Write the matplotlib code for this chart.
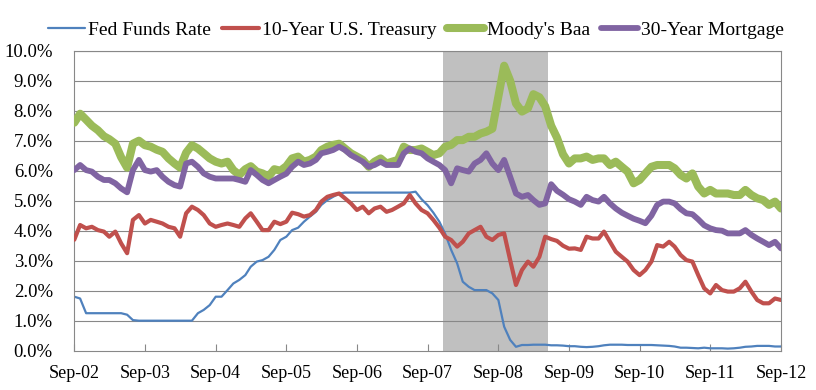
import matplotlib
matplotlib.use("Agg")
import matplotlib.pyplot as plt
import pandas as pd
import numpy as np

plt.rcParams['font.family'] = 'Liberation Serif'

# monthly observations, Sep-2002 .. Sep-2012
dates = pd.date_range("2002-09-01", "2012-09-01", freq="MS")

fed_funds = [
    1.8, 1.74, 1.25, 1.25, 1.25, 1.25, 1.25, 1.25, 1.25, 1.2,
    1.02, 1.0, 1.0, 1.0, 1.0, 1.0, 1.0, 1.0, 1.0, 1.0,
    1.0, 1.25, 1.36, 1.52, 1.8, 1.8, 2.02, 2.24, 2.36, 2.52,
    2.8, 2.97, 3.02, 3.13, 3.36, 3.69, 3.8, 4.02, 4.1, 4.3,
    4.47, 4.63, 4.86, 5.02, 5.13, 5.24, 5.27, 5.27, 5.27, 5.27,
    5.27, 5.27, 5.27, 5.27, 5.27, 5.27, 5.27, 5.27, 5.3, 5.05,
    4.85, 4.6, 4.3, 3.9, 3.36, 2.91, 2.3, 2.13, 2.02, 2.02,
    2.02, 1.91, 1.69, 0.8, 0.36, 0.13, 0.19, 0.19, 0.2, 0.2,
    0.2, 0.18, 0.18, 0.17, 0.15, 0.15, 0.13, 0.12, 0.13, 0.15,
    0.18, 0.2, 0.2, 0.2, 0.19, 0.19, 0.19, 0.19, 0.19, 0.18,
    0.17, 0.16, 0.14, 0.1, 0.1, 0.09, 0.08, 0.1, 0.08, 0.08,
    0.08, 0.07, 0.08, 0.1, 0.13, 0.14, 0.16, 0.16, 0.16, 0.14,
    0.14,
]

treasury_10y = [
    3.7, 4.19, 4.08, 4.13, 4.02, 3.97, 3.8, 3.97, 3.58, 3.25,
    4.36, 4.52, 4.24, 4.36, 4.3, 4.24, 4.13, 4.08, 3.8, 4.58,
    4.8, 4.69, 4.52, 4.24, 4.13, 4.19, 4.24, 4.19, 4.13, 4.41,
    4.58, 4.3, 4.02, 4.02, 4.3, 4.22, 4.3, 4.6, 4.55, 4.47,
    4.52, 4.69, 4.97, 5.13, 5.19, 5.24, 5.08, 4.91, 4.69, 4.8,
    4.58, 4.74, 4.8, 4.63, 4.69, 4.8, 4.91, 5.19, 4.91, 4.69,
    4.58, 4.36, 4.1, 3.8, 3.69, 3.47, 3.63, 3.91, 4.02, 4.13,
    3.8, 3.69, 3.86, 3.91, 3.02, 2.19, 2.69, 2.97, 2.8, 3.13,
    3.8, 3.72, 3.66, 3.5, 3.4, 3.41, 3.36, 3.8, 3.74, 3.74,
    3.97, 3.63, 3.3, 3.13, 2.97, 2.69, 2.52, 2.69, 2.97, 3.52,
    3.47, 3.63, 3.47, 3.19, 3.02, 2.97, 2.52, 2.08, 1.91, 2.19,
    2.02, 1.97, 1.97, 2.08, 2.3, 1.97, 1.69, 1.58, 1.58, 1.74,
    1.69,
]

moodys_baa = [
    7.6, 7.9, 7.7, 7.5, 7.35, 7.15, 7.05, 6.9, 6.45, 6.1,
    6.9, 7.0, 6.85, 6.8, 6.7, 6.63, 6.41, 6.24, 6.1, 6.6,
    6.85, 6.74, 6.58, 6.41, 6.3, 6.24, 6.3, 6.02, 5.86, 6.05,
    6.15, 5.97, 5.91, 5.8, 6.05, 6.0, 6.15, 6.41, 6.47, 6.3,
    6.36, 6.47, 6.69, 6.8, 6.86, 6.9, 6.74, 6.58, 6.47, 6.36,
    6.13, 6.3, 6.41, 6.24, 6.3, 6.36, 6.8, 6.69, 6.69, 6.74,
    6.63, 6.52, 6.58, 6.8, 6.86, 7.02, 7.02, 7.13, 7.13, 7.24,
    7.3, 7.4, 8.47, 9.5, 9.0, 8.24, 7.97, 8.08, 8.55, 8.45,
    8.15, 7.5, 7.1, 6.55, 6.24, 6.41, 6.41, 6.47, 6.36, 6.41,
    6.41, 6.19, 6.3, 6.13, 5.97, 5.58, 5.69, 5.91, 6.13, 6.19,
    6.19, 6.19, 6.08, 5.86, 5.74, 5.91, 5.47, 5.24, 5.36, 5.24,
    5.24, 5.24, 5.19, 5.19, 5.36, 5.19, 5.08, 5.02, 4.86, 4.97,
    4.74,
]

mortgage_30y = [
    6.02, 6.19, 6.02, 5.97, 5.8, 5.69, 5.69, 5.58, 5.41, 5.28,
    6.02, 6.36, 6.02, 5.97, 6.02, 5.8, 5.63, 5.52, 5.47, 6.24,
    6.3, 6.13, 5.91, 5.8, 5.74, 5.74, 5.74, 5.74, 5.69, 5.63,
    6.02, 5.86, 5.69, 5.58, 5.69, 5.8, 5.9, 6.13, 6.3, 6.19,
    6.24, 6.36, 6.58, 6.63, 6.69, 6.8, 6.69, 6.52, 6.41, 6.3,
    6.13, 6.19, 6.3, 6.19, 6.19, 6.19, 6.58, 6.74, 6.63, 6.58,
    6.41, 6.3, 6.19, 6.02, 5.58, 6.08, 6.02, 5.97, 6.24, 6.36,
    6.58, 6.24, 6.02, 6.36, 5.8, 5.24, 5.13, 5.19, 5.02, 4.86,
    4.91, 5.55, 5.33, 5.2, 5.05, 4.97, 4.86, 5.13, 5.02, 4.97,
    5.13, 4.91, 4.74, 4.6, 4.5, 4.4, 4.33, 4.25, 4.5, 4.86,
    4.97, 4.97, 4.91, 4.72, 4.58, 4.55, 4.38, 4.18, 4.08, 4.02,
    4.0, 3.91, 3.91, 3.91, 4.02, 3.86, 3.74, 3.63, 3.52, 3.63,
    3.41,
]

series_names = ["Fed Funds Rate", "10-Year U.S. Treasury", "Moody's Baa", "30-Year Mortgage"]
recession = (pd.Timestamp("2007-11-19"), pd.Timestamp("2009-05-16"))
tick_dates = pd.date_range("2002-09-01", "2012-09-01", freq="12MS")
tick_labels = [d.strftime("%b-%y") for d in tick_dates]
y_ticks = list(range(0, 11))

fig = plt.figure(figsize=(8.16, 3.9), dpi=100)
ax = fig.add_axes([74.3 / 816, 1 - 350.7 / 390, (781 - 74.3) / 816, 300 / 390])

ax.axvspan(recession[0], recession[1], color="#C0C0C0", zorder=0, lw=0)
for v in y_ticks[1:]:
    ax.axhline(v, color="#888888", lw=0.8, zorder=0.5)

colors = ["#4F81BD", "#C0504D", "#9BBB59", "#8064A2"]
widths = [1.6, 3.0, 5.8, 4.2]
data = [fed_funds, treasury_10y, moodys_baa, mortgage_30y]
handles = []
for i, (vals, name) in enumerate(zip(data, series_names)):
    h, = ax.plot(dates, vals, color=colors[i], lw=widths[i], label=name,
                 zorder=2 + i, solid_joinstyle="round", solid_capstyle="round")
    handles.append(h)

ax.set_xlim(dates[0], dates[-1])
ax.set_ylim(0, 10)
ax.set_yticks(y_ticks)
ax.set_yticklabels([f"{v:.1f}%" for v in y_ticks], fontsize=13.5)
ax.set_xticks(tick_dates)
ax.set_xticklabels(tick_labels, fontsize=13)
ax.tick_params(axis="y", length=0, pad=15.5)
ax.tick_params(axis="x", direction="in", length=5, width=0.8, color="#888888", pad=10)
for s in ax.spines.values():
    s.set_color("#888888")
    s.set_linewidth(0.8)

fig.legend(handles=handles, loc="center", bbox_to_anchor=(416 / 816, 1 - 30 / 390),
           ncol=4, frameon=False, handlelength=1.9, handletextpad=0.15,
           columnspacing=0.55, borderaxespad=0,
           prop={'family': 'Liberation Serif', 'size': 14})

fig.savefig("out.png", dpi=100)
